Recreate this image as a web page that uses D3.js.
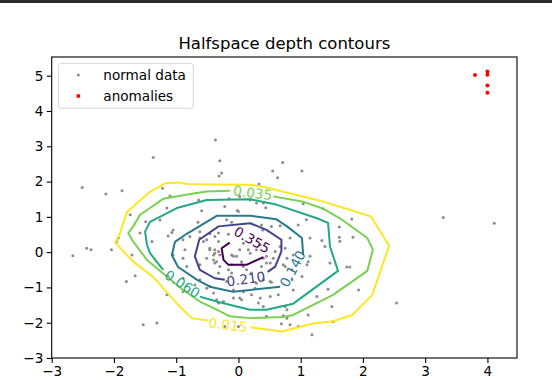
<!DOCTYPE html>
<html>
<head>
<meta charset="utf-8">
<script src="https://cdn.jsdelivr.net/npm/d3@7"></script>
<style>
  body { margin: 0; background: #fff; }
  svg { display: block; font-family: "DejaVu Sans", sans-serif; }
</style>
</head>
<body>
<svg id="chart"></svg>
<script>
// normal data (x, y)
const normalPoints = [
  [-2.66,-0.10],[-2.51,1.83],[-2.44,0.11],[-2.37,0.07],[-2.13,1.65],[-1.87,1.74],[-1.37,2.68],[-0.37,3.18],
  [-0.30,2.59],[-0.27,2.24],[-0.31,2.16],[-1.22,1.81],[-1.10,1.59],[-1.15,1.25],[-1.74,1.06],[-1.49,0.86],
  [-0.15,1.51],[-0.59,1.17],[-0.02,1.18],[-0.65,0.85],[-0.19,0.92],[-0.11,0.85],[-1.05,0.63],[-1.07,0.56],
  [-1.13,0.46],[-0.78,0.44],[-0.16,0.51],[-0.32,0.54],[-0.46,0.52],[-1.58,0.54],[-1.93,0.40],[0.71,2.54],
  [0.55,2.30],[1.02,2.30],[0.63,2.11],[0.33,1.93],[0.40,1.39],[0.44,1.26],[1.04,1.37],[1.36,1.23],
  [1.09,0.92],[0.96,0.77],[1.82,0.94],[1.62,0.71],[1.62,0.42],[1.84,0.42],[0.37,0.77],[0.39,0.63],
  [0.53,0.73],[0.67,0.75],[1.15,0.40],[0.83,0.40],[1.63,0.31],[1.34,0.33],[1.39,0.16],[1.15,-0.12],
  [1.12,-0.27],[1.10,-0.36],[0.78,-0.17],[0.72,-0.36],[0.67,0.16],[0.59,0.02],[0.56,-0.17],[0.51,-0.31],
  [1.47,-0.31],[1.74,-0.42],[1.79,-0.42],[1.02,-0.69],[0.51,-0.83],[0.53,-0.85],[0.51,-1.26],[0.88,-1.07],
  [1.44,-1.05],[1.26,-1.26],[1.93,-1.07],[0.32,-1.44],[0.78,-1.63],[1.50,-1.54],[1.12,-1.78],[0.72,-1.80],
  [0.69,-2.03],[1.52,-1.97],[1.18,-2.34],[2.54,-1.44],[3.29,0.98],[4.11,0.82],[-1.96,0.30],[-2.04,0.07],
  [-1.71,-0.08],[-1.39,0.30],[-1.66,-0.67],[-1.80,-0.83],[-1.53,-2.06],[-1.31,-2.01],[-1.05,-0.08],[-0.86,0.07],
  [-0.62,-0.36],[-0.56,0.30],[-0.46,0.07],[-0.40,-0.08],[-0.51,-0.17],[-0.35,-0.27],[-0.30,-0.41],[-0.16,-0.50],
  [-0.11,-0.36],[-0.03,-0.12],[0.08,0.25],[-0.32,-0.59],[-0.19,-0.83],[-1.13,-0.69],[-0.70,-0.93],[-0.89,-1.12],
  [-0.51,-1.02],[-0.35,-1.35],[-0.32,-1.44],[-0.24,-1.40],[0.05,-1.35],[-0.22,-2.11],[-1.26,0.91],[-0.62,0.58],
  [-0.62,0.40],[-0.51,0.35],[-0.38,0.44],[-0.32,0.30],[-0.38,0.07],[-0.32,0.02],[-0.38,-0.31],[-0.11,-0.08],
  [0.02,0.07],[0.16,0.07],[0.29,0.07],[0.45,-0.12],[0.08,-0.41],[-0.11,-0.59],[-0.89,-0.74],[-0.08,-1.30],
  [0.02,-1.30],[0.08,-1.12],[-0.08,-1.07],[0.21,-1.21],[0.29,-0.88],[0.35,-1.30],[0.64,-1.21],[0.40,-1.54],
  [0.00,-2.11],[0.78,-1.87],[0.96,-2.11],[0.19,1.48],[0.29,1.39],[-0.22,1.29],[0.00,1.15],[0.75,-0.41],
  [0.27,-1.02],[0.40,-0.17],[0.37,-0.41],[0.75,0.11],[0.88,-0.08],[0.40,-0.78],[0.86,-0.78],[0.75,-1.54],
  [-0.89,-0.17],[-0.83,-0.41],[0.05,-0.36],[0.13,-0.50],[-1.15,-1.21],[-0.40,-1.16],[-0.64,1.48],[0.02,1.58],
  [-0.89,0.35],[-0.46,0.11],[-0.38,-0.03],[-0.30,-0.08],[-0.40,-0.22],[-0.08,-0.12],[0.05,-0.27],[0.19,-0.03],
  [0.35,0.21],[0.45,-0.31],[0.21,-0.59],[-0.62,-0.78],[-0.46,-0.97],[0.45,-1.82],[0.83,-2.06],[0.86,-0.50]
]

const anomalyPoints = [[3.80,5.02],[4.00,5.12],[4.00,5.03],[4.00,4.72],[4.00,4.52]]

const levels = [0.015, 0.035, 0.060, 0.140, 0.210, 0.355]

// contour paths, each one open where its label sits
const contour015 = [[0.19,-2.13],[0.70,-2.25],[1.20,-2.02],[1.52,-1.96],[1.83,-1.78],[2.15,-1.21],[2.42,0.18],
  [2.13,1.01],[1.79,1.20],[1.26,1.48],[0.43,1.84],[0.19,1.91],[-0.36,1.92],[-0.83,1.93],[-0.94,1.97],[-1.18,1.95],
  [-1.42,1.71],[-1.79,1.14],[-1.90,0.55],[-1.98,0.27],[-1.69,-0.27],[-1.37,-0.70],[-0.94,-1.55],[-0.75,-1.87],[-0.49,-1.94]]
const contour035 = [[0.56,1.58],[1.04,1.43],[1.36,1.23],[1.63,0.96],[2.07,0.40],[2.16,0.07],[2.07,-0.53],[1.52,-1.21],
  [0.88,-1.78],[0.72,-1.84],[0.19,-1.87],[-0.14,-1.82],[-0.35,-1.63],[-0.62,-1.40],[-0.89,-1.07],[-1.47,-0.22],
  [-1.71,0.35],[-1.77,0.54],[-1.69,0.73],[-1.58,1.06],[-1.42,1.25],[-1.21,1.51],[-0.70,1.67],[-0.51,1.72],[-0.14,1.74]]
const contour060 = [[-1.21,-0.50],[-1.42,-0.03],[-1.47,0.21],[-1.50,0.58],[-1.42,0.86],[-0.99,1.25],[-0.51,1.48],
  [0.19,1.50],[0.62,1.34],[1.26,0.96],[1.44,0.83],[1.47,0.16],[1.60,-0.53],[0.88,-1.46],[0.45,-1.63],[0.19,-1.63],
  [-0.03,-1.54],[-0.35,-1.40],[-0.62,-1.26]]
const contour140 = [[1.04,-0.08],[1.02,0.40],[0.78,0.73],[0.61,0.93],[0.19,1.03],[-0.35,1.03],[-0.83,0.52],
  [-1.02,0.29],[-1.07,-0.08],[-0.97,-0.42],[-0.67,-0.78],[-0.46,-0.98],[-0.09,-1.12],[0.19,-1.07],[0.67,-0.98]]
const contour210 = [[0.47,-0.56],[0.59,-0.41],[0.69,0.02],[0.69,0.35],[0.45,0.63],[0.19,0.82],[-0.32,0.73],
  [-0.63,0.35],[-0.70,-0.12],[-0.62,-0.50],[-0.38,-0.74],[-0.22,-0.78]]
const contour355 = [[0.40,-0.14],[0.13,-0.36],[-0.16,-0.36],[-0.24,-0.22],[-0.27,0.11],[-0.14,0.27]]

const contourPaths = [contour015, contour035, contour060, contour140, contour210, contour355]

// inline label anchors (x, y) and text angle
const labelX = [-0.17, 0.23, -0.90, 0.87, 0.12, 0.22]
const labelY = [-2.06, 1.68, -0.90, -0.47, -0.76, 0.35]
const labelAngle = [7, 7, 33, -62, -8, 30]

const xTicks = [-3, -2, -1, 0, 1, 2, 3, 4]
const yTicks = [-3, -2, -1, 0, 1, 2, 3, 4, 5]

class ContourChart {
    constructor(_config) {
        this.config = {
            parentElement: _config.parentElement,
            containerWidth: 552,
            containerHeight: 380,
            margin: {top: 57, right: 35, bottom: 22, left: 51.7},
        }
        this.initVis()
    }

    initVis() {
        let vis = this

        vis.width = vis.config.containerWidth - vis.config.margin.left - vis.config.margin.right
        vis.height = vis.config.containerHeight - vis.config.margin.top - vis.config.margin.bottom

        vis.svg = d3.select(vis.config.parentElement)
            .attr('width', vis.config.containerWidth)
            .attr('height', vis.config.containerHeight)

        // dark strip along the top edge of the picture
        vis.svg.append('rect')
            .attr('x', 0).attr('y', 0)
            .attr('width', vis.config.containerWidth).attr('height', 3)
            .attr('fill', '#2b2b2b')

        vis.chart = vis.svg.append('g')
            .attr('transform', `translate(${vis.config.margin.left},${vis.config.margin.top})`)

        vis.xScale = d3.scaleLinear().domain([-3, 4.475]).range([0, vis.width])
        vis.yScale = d3.scaleLinear().domain([-3, 5.53]).range([vis.height, 0])

        vis.color = i => d3.interpolateViridis(1 - i / (levels.length - 1))
    }

    renderVis() {
        let vis = this

        // scatter of normal data
        vis.chart.append('g')
            .selectAll('circle')
            .data(normalPoints)
            .join('circle')
              .attr('cx', d => vis.xScale(d[0]))
              .attr('cy', d => vis.yScale(d[1]))
              .attr('r', 1.5)
              .attr('fill', '#8c8c8c')

        vis.chart.append('g')
            .selectAll('circle')
            .data(anomalyPoints)
            .join('circle')
              .attr('cx', d => vis.xScale(d[0]))
              .attr('cy', d => vis.yScale(d[1]))
              .attr('r', 2)
              .attr('fill', '#ff0000')

        const line = d3.line()
            .x(d => vis.xScale(d[0]))
            .y(d => vis.yScale(d[1]))

        vis.chart.append('g')
            .selectAll('path')
            .data(contourPaths)
            .join('path')
              .attr('d', line)
              .attr('fill', 'none')
              .attr('stroke', (d, i) => vis.color(i))
              .attr('stroke-width', 2)
              .attr('stroke-linejoin', 'round')

        vis.chart.append('g')
            .selectAll('text')
            .data(levels)
            .join('text')
              .attr('transform', (d, i) => `translate(${vis.xScale(labelX[i])},${vis.yScale(labelY[i])}) rotate(${labelAngle[i]})`)
              .attr('text-anchor', 'middle')
              .attr('dy', '0.36em')
              .attr('font-size', 13.6)
              .attr('fill', (d, i) => vis.color(i))
              .text(d => d.toFixed(3))

        // axes
        const fmt = d3.format('d')
        const xAxis = vis.chart.append('g')
            .attr('transform', `translate(0,${vis.height})`)
            .call(d3.axisBottom(vis.xScale).tickValues(xTicks).tickFormat(fmt).tickSize(4.9).tickPadding(3.5).tickSizeOuter(0))
        const yAxis = vis.chart.append('g')
            .call(d3.axisLeft(vis.yScale).tickValues(yTicks).tickFormat(fmt).tickSize(4.9).tickPadding(3.5).tickSizeOuter(0))

        for (const ax of [xAxis, yAxis]) {
            ax.select('.domain').remove()
            ax.selectAll('line').attr('stroke', '#000').attr('stroke-width', 1.1)
            ax.selectAll('text').attr('font-size', 13.6).attr('fill', '#000')
                .attr('font-family', '"DejaVu Sans", sans-serif')
        }

        vis.chart.append('rect')
            .attr('width', vis.width)
            .attr('height', vis.height)
            .attr('fill', 'none')
            .attr('stroke', '#000')
            .attr('stroke-width', 1.1)

        vis.svg.append('text')
            .attr('x', vis.config.margin.left + vis.width / 2)
            .attr('y', 49)
            .attr('text-anchor', 'middle')
            .attr('font-size', 16.5)
            .text('Halfspace depth contours')

        // legend
        const legend = vis.chart.append('g').attr('transform', 'translate(6.6,6.3)')
        legend.append('rect')
            .attr('width', 135).attr('height', 45)
            .attr('rx', 3)
            .attr('fill', '#fff').attr('fill-opacity', 0.8)
            .attr('stroke', '#d5d5d5')

        const entries = [
            {label: 'normal data', color: '#8c8c8c', r: 1.5},
            {label: 'anomalies', color: '#ff0000', r: 2},
        ]
        const rows = legend.selectAll('g.entry')
            .data(entries)
            .join('g')
              .attr('class', 'entry')
              .attr('transform', (d, i) => `translate(0,${11.7 + i * 21})`)
        rows.append('circle')
            .attr('cx', 20).attr('r', d => d.r).attr('fill', d => d.color)
        rows.append('text')
            .attr('x', 45).attr('dy', '0.36em')
            .attr('font-size', 13.6)
            .text(d => d.label)
    }
}

const chart = new ContourChart({parentElement: '#chart'})
chart.renderVis()
</script>
</body>
</html>
